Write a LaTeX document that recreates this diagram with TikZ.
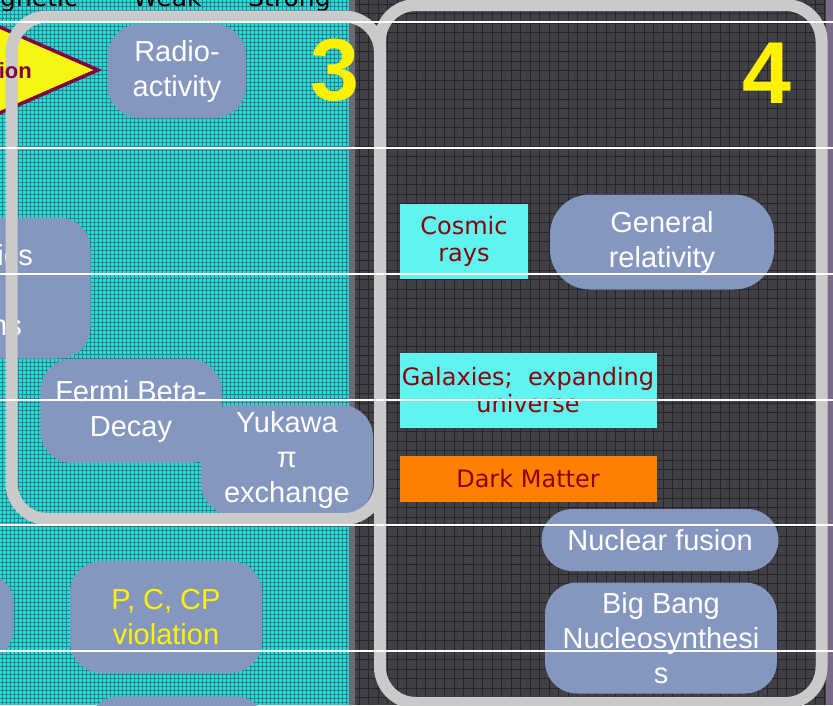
\documentclass[tikz,border=0pt]{standalone}
\usepackage{fontspec}
\setmainfont{Liberation Sans}
\newfontfamily\verdfont{DejaVu Sans}

\definecolor{tealbg}{RGB}{22,228,224}
\definecolor{tealgrid}{RGB}{76,116,128}
\definecolor{darkbg}{RGB}{64,64,70}
\definecolor{darkgrid}{RGB}{38,38,42}
\definecolor{sepgray}{RGB}{106,106,116}
\definecolor{edgepurple}{RGB}{122,108,136}
\definecolor{bubbleblue}{RGB}{133,151,191}
\definecolor{topiccyan}{RGB}{96,244,240}
\definecolor{topicred}{RGB}{140,0,10}
\definecolor{darkorange}{RGB}{255,128,0}
\definecolor{framegray}{RGB}{202,202,202}
\definecolor{arrowred}{RGB}{128,0,64}
\definecolor{arrowyellow}{RGB}{246,246,20}

\tikzset{
  bubble/.style={rounded corners=32pt, fill=bubbleblue, text=white, align=center,
    inner sep=0pt, font=\fontsize{29}{35}\selectfont},
  topicbox/.style={fill=topiccyan, text=topicred, align=center, inner sep=0pt,
    font=\verdfont\fontsize{24}{27}\selectfont},
  panelframe/.style={draw=framegray, line width=12pt, rounded corners=36pt},
  bignum/.style={text=yellow, inner sep=0pt, anchor=base, font=\bfseries\fontsize{88}{88}\selectfont},
  header/.style={inner sep=0pt, text=black, font=\verdfont\fontsize{25}{25}\selectfont}
}

\begin{document}
\begin{tikzpicture}[x=1pt,y=-1pt]
\useasboundingbox (0,0) rectangle (833,705);
\clip (0,0) rectangle (833,705);

% backgrounds
\fill[tealbg] (0,0) rectangle (349,705);
\foreach \x in {2,6,...,349} \draw[tealgrid, line width=0.5pt] (\x,0) -- (\x,705);
\foreach \y in {2,6,...,705} \draw[tealgrid, line width=0.5pt] (0,\y) -- (349,\y);
\fill[sepgray] (349,0) rectangle (355,705);
\fill[darkbg] (355,0) rectangle (826,705);
\foreach \x in {359,368.5,...,826} \draw[darkgrid, line width=0.8pt] (\x,0) -- (\x,705);
\foreach \y in {4,13.5,...,705} \draw[darkgrid, line width=0.8pt] (355,\y) -- (826,\y);
\fill[edgepurple] (826,0) rectangle (833,705);

\node[header, anchor=base east] (hdem) at (78,6) {gnetic};
\node[header, anchor=base west] (hdweak) at (133,6) {Weak};
\node[header, anchor=base west] (hdstrong) at (248,6) {Strong};

\draw[draw=arrowred, fill=arrowyellow, line width=3.5pt] (-30,14) -- (98,70) -- (-30,126) -- cycle;

% panel 3
\node[bubble, minimum width=138pt, minimum height=94pt] (radio) at (177,71) {Radio-\\activity};
\node[bubble, minimum width=181pt, minimum height=141pt] (stats) at (0,288) {};
\node[bubble, minimum width=181pt, minimum height=104pt] (fermi) at (131,411) {Fermi Beta-\\Decay};
\node[bubble, minimum width=172pt, minimum height=110pt] (yukawa) at (287,460) {Yukawa\\π\\exchange};
\node[bubble, minimum width=163pt, minimum height=88pt] (leftrow) at (-68,616) {};
\node[bubble, minimum width=192pt, minimum height=112pt, text=yellow] (pccp) at (166,617) {P, C, CP\\violation};
\node[bubble, minimum width=180pt, minimum height=103pt] (lowrow) at (177,748) {};
\node[inner sep=0pt, anchor=base east, text=white, font=\fontsize{29}{35}\selectfont] (statsa) at (33,265) {ics};
\node[inner sep=0pt, anchor=base east, text=white, font=\fontsize{29}{35}\selectfont] (statsb) at (22,335) {ns};

% panel 4
\node[topicbox, minimum width=128pt, minimum height=75pt] (cosmic) at (464,241) {Cosmic\\rays};
\node[bubble, minimum width=224pt, minimum height=95pt, rounded corners=40pt] (gr) at (662,242) {General\\relativity};
\node[topicbox, minimum width=257pt, minimum height=75pt] (galaxies) at (528,390) {Galaxies;\ \ expanding\\universe};
\node[topicbox, fill=darkorange, minimum width=257pt, minimum height=46pt] (dark) at (528,479) {Dark Matter};
\node[bubble, minimum width=237pt, minimum height=62pt, rounded corners=31pt] (fusion) at (660,540) {Nuclear fusion};
\node[bubble, minimum width=232pt, minimum height=111pt] (bbn) at (661,638) {Big Bang\\Nucleosynthesi\\s};

\draw[panelframe] (11.5,16.5) rectangle (380,519);
\draw[panelframe] (380,5) rectangle (821.5,703);

\node[inner sep=0pt, anchor=base east, text=arrowred, font=\bfseries\fontsize{22}{22}\selectfont] (unif) at (32,78) {tion};

\node[bignum] (three) at (335,100) {3};
\node[bignum] (four) at (767,103) {4};

\foreach \y in {22,148,274,400,525,651} \draw[white, line width=1.5pt] (0,\y) -- (833,\y);

\end{tikzpicture}
\end{document}
